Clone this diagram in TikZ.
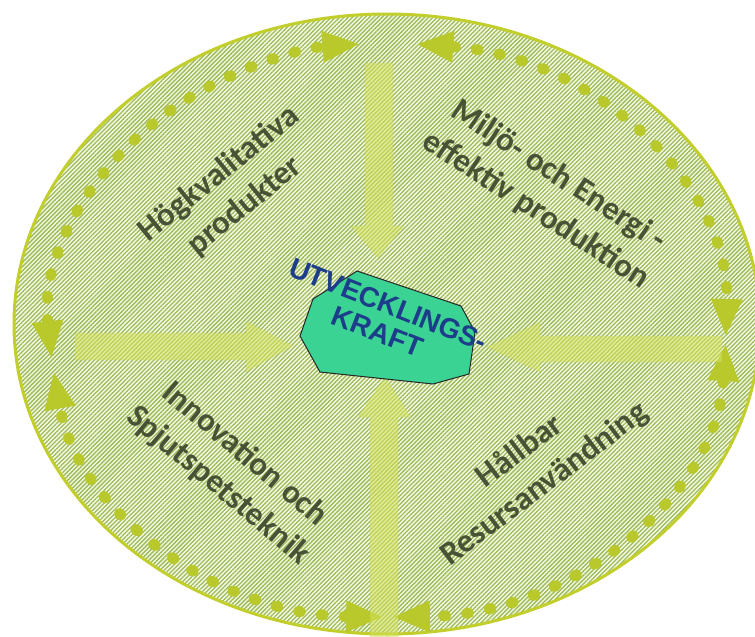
\documentclass[tikz,border=0pt]{standalone}
\usepackage{fontspec}
\setmainfont{Carlito}
\newfontfamily\arialb{Liberation Sans}
\usetikzlibrary{arrows.meta,patterns.meta}
\definecolor{rimc}{HTML}{C2CE2C}
\definecolor{hatchbg}{HTML}{F4F9E4}
\definecolor{hatchln}{HTML}{9DBA58}
\definecolor{dotc}{HTML}{B9C92B}
\definecolor{crossc}{HTML}{D4E25A}
\definecolor{octc}{HTML}{3AD393}
\definecolor{labc}{HTML}{485234}
\definecolor{navy}{HTML}{1D3C8A}
\begin{document}
\begin{tikzpicture}[x=1pt,y=-1pt,
  lab/.style={text=labc,font=\fontsize{33}{41}\selectfont\bfseries,align=center,inner sep=0pt},
  ring/.style={dotc,line width=11pt,line cap=round,dash pattern=on 2pt off 21pt,
    {Triangle[length=36pt,width=32pt,line width=0pt]}-{Triangle[length=36pt,width=32pt,line width=0pt]}},
  cross/.style={fill=crossc,fill opacity=0.55,draw=crossc!80!black,draw opacity=0.25,line width=0.8pt,dashed}]
\useasboundingbox (0,0) rectangle (755,637);
% background ellipse
\fill[hatchbg] (387,324) ellipse [x radius=373, y radius=310];
\fill[pattern={Lines[angle=45,distance=3pt,line width=1.3pt]},pattern color=hatchln]
  (387,324) ellipse [x radius=373, y radius=310];
\draw[rimc,line width=3pt] (387,324) ellipse [x radius=373, y radius=310];
% dotted ring arcs
\coordinate (rc) at (388,330);
\draw[ring] (rc) ++(174.6:338 and 287) arc[start angle=174.6,end angle=265,x radius=338,y radius=287];
\draw[ring] (rc) ++(275:338 and 287) arc[start angle=275,end angle=361,x radius=338,y radius=287];
\draw[ring] (rc) ++(3:338 and 287) arc[start angle=3,end angle=89,x radius=338,y radius=287];
\draw[ring] (rc) ++(91:338 and 287) arc[start angle=91,end angle=171.4,x radius=338,y radius=287];
% cross arrows
\path[cross] (365,63) -- (393,63) -- (393,226) -- (404,226) -- (378,258) -- (351,226) -- (365,226) -- cycle;
\path[cross] (75,333) -- (246,333) -- (246,321) -- (293,346) -- (246,372) -- (246,360) -- (75,360) -- cycle;
\path[cross] (722,336) -- (540,336) -- (540,322) -- (487,347) -- (540,372) -- (540,362) -- (722,362) -- cycle;
\path[cross] (370,637) -- (370,417) -- (358,417) -- (385,377) -- (411,417) -- (398,417) -- (398,637) -- cycle;
% central octagon
\draw[fill=octc,draw=black!85,line width=1pt]
  (357,271) -- (461,306) -- (475,332) -- (469,374) -- (433,384) -- (320,372) -- (300,336) -- (313,299) -- cycle;
\node[text=navy,font=\arialb\fontsize{28}{29}\selectfont\bfseries,align=center,rotate=-21.5,inner sep=0pt]
  (core) at (383,318) {UTVECKLINGS-\\KRAFT};
% labels
\node[lab,rotate=39] (hq) at (232,190) {Högkvalitativa\\produkter};
\node[lab,rotate=-33] (me) at (547,193) {Miljö- och Energi -\\effektiv produktion};
\node[lab,rotate=-40] (in) at (231,470) {Innovation och\\Spjutspetsteknik};
\node[lab,rotate=37] (hb) at (532,468) {Hållbar\\Resursanvändning};
\end{tikzpicture}
\end{document}
